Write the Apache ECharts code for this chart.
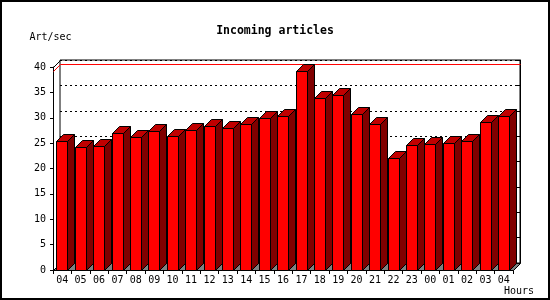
<!DOCTYPE html>
<html><head><meta charset="utf-8">
<script src="https://cdn.jsdelivr.net/npm/echarts@6/dist/echarts.min.js"></script>
<style>html,body{margin:0;padding:0;background:#fff}#c{width:550px;height:300px}</style>
</head><body><div id="c"></div>
<script>
// ---- data ----
const hours = ['04','05','06','07','08','09','10','11','12','13','14','15','16','17','18','19','20','21','22','23','00','01','02','03','04'];
const rates = [25.4, 24.2, 24.4, 27.0, 26.2, 27.4, 26.4, 27.6, 28.4, 28.0, 28.75, 29.9, 30.3, 39.2, 33.9, 34.5, 30.7, 28.75, 22.0, 24.6, 24.8, 25.0, 25.4, 29.1, 30.3];
const yMin = 0, yMax = 40, yStep = 5;
const titleText = 'Incoming articles';
const yName = 'Art/sec';
const xName = 'Hours';

// ---- layout / style ----
const D = 7;               // 3D depth offset in px
const FL = 53, FT = 67, FW = 460, FH = 203;  // front plane
const MONO = 'DejaVu Sans Mono';
const maxRate = Math.max.apply(null, rates);

function crisp(v) { return Math.round(v) + 0.5; }

function renderBackdrop(params, api) {
  const cs = params.coordSys;
  const x0 = crisp(cs.x), x1 = crisp(cs.x + cs.width);
  const yb = crisp(cs.y + cs.height), yt = crisp(cs.y);
  const ym = crisp(api.coord([0, api.value(1)])[1]);
  return { type: 'group', children: [
    { type: 'polygon', shape: { points: [[x0, yb], [x1, yb], [x1 + D, yb - D], [x0 + D, yb - D]] },
      style: { fill: '#808080', stroke: '#000', lineWidth: 1 } },
    { type: 'polyline', shape: { points: [[x0, ym], [x0 + D, ym - D], [x1 + D, ym - D]] },
      style: { stroke: '#ff0000', lineWidth: 1, fill: null } },
    { type: 'line', shape: { x1: x0, y1: yt, x2: x0 + D, y2: yt - D },
      style: { stroke: '#000', lineWidth: 1 } }
  ]};
}

function renderBar(params, api) {
  const i = api.value(0), v = api.value(1);
  const top = api.coord([i, v]), base = api.coord([i, 0]);
  const bw = api.size([1, 0])[0];
  const L = crisp(top[0] - 0.315 * bw), R = L + Math.round(0.6 * bw);
  const T = crisp(top[1]), B = crisp(base[1]);
  const st = { stroke: '#000', lineWidth: 1 };
  return { type: 'group', children: [
    { type: 'polygon', shape: { points: [[R, T], [R + D, T - D], [R + D, B - D], [R, B]] },
      style: Object.assign({ fill: '#800000' }, st) },
    { type: 'polygon', shape: { points: [[L, T], [R, T], [R + D, T - D], [L + D, T - D]] },
      style: Object.assign({ fill: '#c00000' }, st) },
    { type: 'polygon', shape: { points: [[L, T], [R, T], [R, B], [L, B]] },
      style: Object.assign({ fill: '#ff0000' }, st) }
  ]};
}

const chart = echarts.init(document.getElementById('c'), null, { renderer: 'canvas' });
chart.setOption({
  animation: false,
  backgroundColor: '#fff',
  title: {
    text: titleText, left: 'center', top: 20,
    textStyle: { fontFamily: MONO, fontWeight: 'bold', fontSize: 11.5, color: '#000' }
  },
  grid: [
    { left: FL, top: FT, width: FW, height: FH, show: false, containLabel: false, outerBoundsMode: 'none' },
    { left: FL + D, top: FT - D, width: FW, height: FH, show: true, backgroundColor: '#fff',
      borderColor: '#000', borderWidth: 1, containLabel: false, outerBoundsMode: 'none' }
  ],
  xAxis: [
    { type: 'category', gridIndex: 0, data: hours, boundaryGap: true,
      axisLine: { show: true, lineStyle: { color: '#000', width: 1 } },
      axisTick: { show: true, interval: 0, length: 4, lineStyle: { color: '#000' } },
      axisLabel: { interval: 0, margin: 5, fontFamily: MONO, fontSize: 10, color: '#000' },
      splitLine: { show: false },
      name: xName, nameLocation: 'end', nameGap: -9,
      nameTextStyle: { fontFamily: MONO, fontSize: 10, color: '#000', align: 'left', verticalAlign: 'top', padding: [16, 0, 0, 0] }
    },
    { type: 'category', gridIndex: 1, data: hours, show: false }
  ],
  yAxis: [
    { type: 'value', gridIndex: 0, min: yMin, max: yMax, interval: yStep,
      axisLine: { show: true, lineStyle: { color: '#000', width: 1 } },
      axisTick: { show: true, length: 3, lineStyle: { color: '#000' } },
      axisLabel: { margin: 7, fontFamily: MONO, fontSize: 10, color: '#000' },
      splitLine: { show: false },
      name: yName, nameLocation: 'end', nameGap: 25,
      nameTextStyle: { fontFamily: MONO, fontSize: 10, color: '#000', padding: [0, 5, 0, 0] }
    },
    { type: 'value', gridIndex: 1, min: yMin, max: yMax, interval: yStep, position: 'right',
      axisLine: { show: true, lineStyle: { color: '#000', width: 1 } },
      axisTick: { show: true, inside: true, length: 3, lineStyle: { color: '#000' } },
      axisLabel: { show: false },
      splitLine: { show: true, lineStyle: { color: '#000', width: 1, type: [2, 3] } }
    }
  ],
  series: [
    { type: 'custom', xAxisIndex: 0, yAxisIndex: 0, z: 1, silent: true,
      renderItem: renderBackdrop, data: [[0, maxRate]], encode: { x: 0, y: 1 } },
    { type: 'custom', xAxisIndex: 0, yAxisIndex: 0, z: 3, silent: true,
      renderItem: renderBar, data: rates.map((v, i) => [i, v]), encode: { x: 0, y: 1 } }
  ],
  graphic: [
    { type: 'rect', z: 100, silent: true,
      shape: { x: 1, y: 1, width: 548, height: 298 },
      style: { fill: null, stroke: '#000', lineWidth: 2 } }
  ]
});
</script>
</body></html>
